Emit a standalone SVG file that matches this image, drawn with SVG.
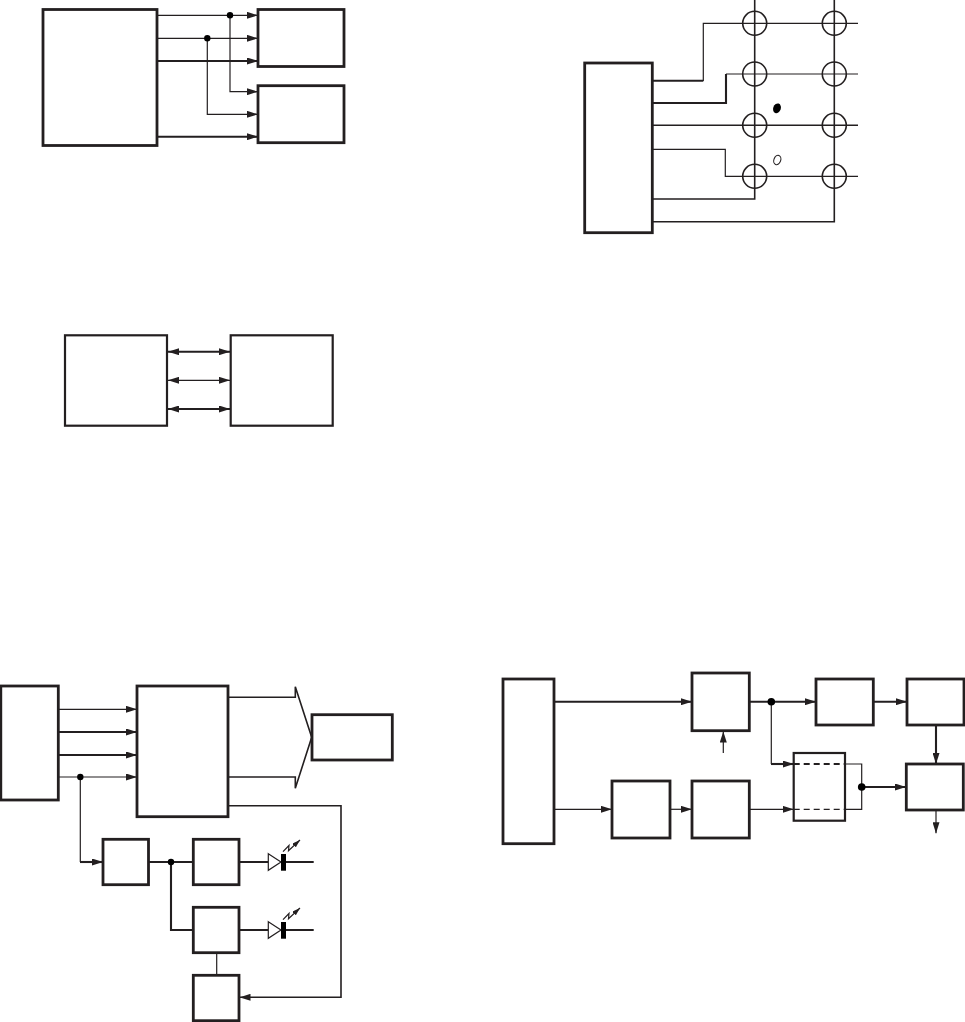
<svg xmlns="http://www.w3.org/2000/svg" width="965" height="1022" viewBox="0 0 965 1022">
<style>
.b{fill:#fff;stroke:#231f20;stroke-width:2.8}
.m{fill:#fff;stroke:#231f20;stroke-width:2.2}
.t,.k,.s{fill:none;stroke:#231f20;stroke-linejoin:miter}
.t{stroke-width:1.2}
.s{stroke-width:1.6}
.k{stroke-width:2.1}
.a{marker-end:url(#ah)}
.d{marker-start:url(#as);marker-end:url(#ah)}
.dot{fill:#000;stroke:none}
.c{fill:none;stroke:#231f20;stroke-width:1.6}
</style>
<defs>
<marker id="ah" markerUnits="userSpaceOnUse" markerWidth="11" markerHeight="7" refX="11" refY="3.5" orient="auto"><path d="M0 0L11 3.5L0 7Z" fill="#231f20"/></marker>
<marker id="as" markerUnits="userSpaceOnUse" markerWidth="11" markerHeight="7" refX="0" refY="3.5" orient="auto"><path d="M11 0L0 3.5L11 7Z" fill="#231f20"/></marker>
<marker id="al" markerUnits="userSpaceOnUse" markerWidth="8" markerHeight="5" refX="8" refY="2.5" orient="auto"><path d="M0 0L8 2.5L0 5Z" fill="#231f20"/></marker>
</defs>
<g id="connectors">
<path class="t a" d="M157 15.3H258"/>
<path class="t a" d="M157 38.3H258"/>
<path class="k a" d="M157 61H258"/>
<path class="t a" d="M230 15.3V91.7H258"/>
<path class="t a" d="M207.3 38.3V114.3H258"/>
<path class="k a" d="M157 136.7H258"/>
<path class="s" d="M754.7 0V199H652"/>
<path class="s" d="M834.3 0V221.7H652"/>
<path class="k" d="M652 80.7H703.3"/>
<path class="t" d="M703.3 81V23.3H858"/>
<path class="k" d="M652 103H726V74"/>
<path class="t" d="M726 74H858"/>
<path class="s" d="M652 125.3H858"/>
<path class="t" d="M652 149.3H725.3V176.3H858"/>
<path class="k d" d="M168 351.7H230"/>
<path class="t d" d="M168 380.3H230"/>
<path class="k d" d="M168 409H230"/>
<path class="t a" d="M58 709.3H137"/>
<path class="k a" d="M58 732H137"/>
<path class="k a" d="M58 755H137"/>
<path class="t a" d="M58 777H137"/>
<path class="t" d="M80.3 777V862"/>
<path class="k a" d="M80 862H103"/>
<path class="k" d="M148 862H193"/>
<path class="k" d="M171 862V930H193"/>
<path class="t" d="M216.7 952V975"/>
<path class="k" d="M239 862H268.3M286 862H313.7"/>
<path class="k" d="M239 930H268.3M286 930H313.7"/>
<path class="s" d="M228 697.3H295.3V686.7L311.7 737.3L295.3 788.3V777H228"/>
<path class="s a" d="M228 805.7H341V997.3H239.5"/>
<path class="k a" d="M554 701.7H692"/>
<path class="k a" d="M749 701.7H816"/>
<path class="k a" d="M873 701.7H907"/>
<path class="t a" d="M723.3 753V731.5"/>
<path class="k a" d="M936 725V764"/>
<path class="t a" d="M936 810V833.3"/>
<path class="t a" d="M554 809.3H612"/>
<path class="t a" d="M670 809.3H692"/>
<path class="t a" d="M749 809.3H793.7"/>
<path class="t" d="M771.3 701.7V764"/>
<path class="k a" d="M771 764H793.7"/>
<path class="k a" d="M861.7 787H906"/>
</g>
<g id="n1"><rect class="b" x="43" y="9.5" width="114" height="136"/></g>
<g id="n2"><rect class="b" x="258" y="9.5" width="86" height="57"/></g>
<g id="n3"><rect class="b" x="258" y="85.7" width="86" height="57"/></g>
<g id="n4"><rect class="b" x="584.7" y="63" width="67.6" height="169.7"/></g>
<g id="n5"><rect class="m" x="65" y="335.3" width="102" height="90.4"/></g>
<g id="n6"><rect class="m" x="230.7" y="335.3" width="102" height="90.4"/></g>
<g id="n7"><rect class="b" x="0.8" y="686" width="57.5" height="114"/></g>
<g id="n8"><rect class="b" x="137" y="686" width="91" height="130.7"/></g>
<g id="n9"><rect class="b" x="312" y="714.7" width="80.3" height="45.3"/></g>
<g id="n10"><rect class="b" x="103" y="839.3" width="45.5" height="45.4"/></g>
<g id="n11"><rect class="b" x="193.3" y="839.3" width="45.7" height="45.4"/></g>
<g id="n12"><rect class="b" x="193.3" y="907.3" width="45.7" height="45.4"/></g>
<g id="n13"><rect class="b" x="193.3" y="975.3" width="45.7" height="45.4"/></g>
<g id="n14"><rect class="b" x="503" y="679" width="51" height="164.7"/></g>
<g id="n15"><rect class="b" x="692" y="673" width="57.3" height="57.7"/></g>
<g id="n16"><rect class="b" x="816" y="679" width="57.3" height="46"/></g>
<g id="n17"><rect class="b" x="907" y="679" width="57" height="46"/></g>
<g id="n18"><rect class="b" x="906.3" y="764" width="57" height="46"/></g>
<g id="n19"><rect class="b" x="612" y="781" width="58" height="57"/></g>
<g id="n20"><rect class="b" x="692" y="781" width="57.3" height="57"/></g>
<g id="n21">
<rect class="m" x="793.7" y="753" width="51.3" height="67.7"/>
<path class="k" d="M793.7 764H845" stroke-dasharray="6 4"/>
<path class="t" d="M793.7 809.3H845" stroke-dasharray="6 4"/>
<path class="t" d="M845 764H861.7V809.3H845"/>
</g>
<g id="junctions">
<circle class="dot" cx="230" cy="15.3" r="3.2"/>
<circle class="dot" cx="207.3" cy="38.3" r="3.2"/>
<circle class="dot" cx="80.3" cy="777" r="3.2"/>
<circle class="dot" cx="171" cy="862" r="3.2"/>
<circle class="dot" cx="771.3" cy="701.7" r="3.8"/>
<circle class="dot" cx="861.7" cy="787" r="3.8"/>
</g>
<g id="rings">
<circle class="c" cx="754.7" cy="23.3" r="12"/><circle class="c" cx="834.3" cy="23.3" r="12"/>
<circle class="c" cx="754.7" cy="74" r="12"/><circle class="c" cx="834.3" cy="74" r="12"/>
<circle class="c" cx="754.7" cy="125.3" r="12"/><circle class="c" cx="834.3" cy="125.3" r="12"/>
<circle class="c" cx="754.7" cy="176.3" r="12"/><circle class="c" cx="834.3" cy="176.3" r="12"/>
<ellipse cx="777" cy="108.3" rx="3.8" ry="5" transform="rotate(20 777 108.3)" fill="#000"/>
<ellipse cx="777.3" cy="160" rx="3.4" ry="4.8" transform="rotate(20 777.3 160)" fill="#fff" stroke="#231f20" stroke-width="1.1"/>
</g>
<g id="led1">
<path d="M268.3 853.7L281 862L268.3 870.3Z" fill="#fff" stroke="#231f20" stroke-width="1.2"/>
<rect x="281" y="854" width="5" height="16.7" fill="#000"/>
<path d="M283 851.7L289 845.5L288.5 850.7L300 840" fill="none" stroke="#231f20" stroke-width="1.2" marker-end="url(#al)"/>
</g>
<g id="led2">
<path d="M268.3 921.7L281 930L268.3 938.3Z" fill="#fff" stroke="#231f20" stroke-width="1.2"/>
<rect x="281" y="922" width="5" height="16.7" fill="#000"/>
<path d="M283 919.7L289 913.5L288.5 918.7L300 908" fill="none" stroke="#231f20" stroke-width="1.2" marker-end="url(#al)"/>
</g>
</svg>
